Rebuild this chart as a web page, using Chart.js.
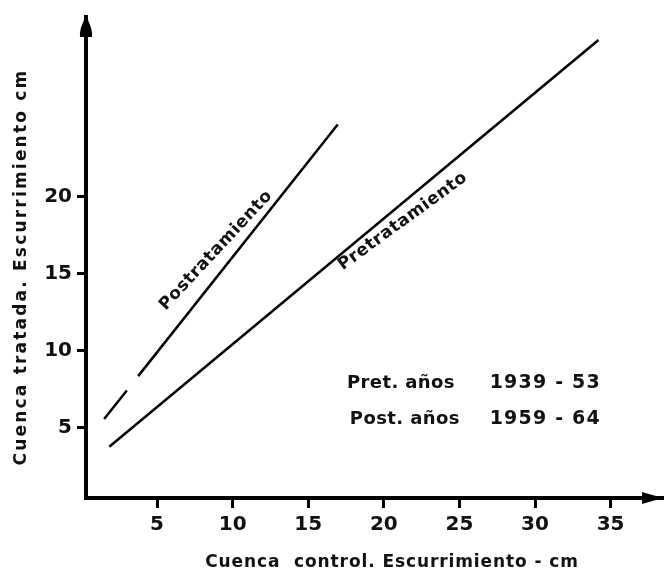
<!DOCTYPE html>
<html><head><meta charset="utf-8">
<script src="https://cdn.jsdelivr.net/npm/chart.js@4"></script>
<style>html,body{margin:0;padding:0;background:#fff}</style>
</head><body><canvas id="c" width="667" height="575"></canvas>
<script>
const xTickValues = [5, 10, 15, 20, 25, 30, 35];
const yTickValues = [5, 10, 15, 20];
const postX = [1.5, 3.0, 3.4, 3.75, 16.95];
const postY = [5.54, 7.4, null, 8.33, 24.7];
const preX = [1.84, 34.2];
const preY = [3.73, 30.2];
const seriesNames = ['Postratamiento', 'Pretratamiento'];
const periodLabels = ['Pret. años', 'Post. años'];
const periodYears = ['1939 - 53', '1959 - 64'];
const xTitle = 'Cuenca  control. Escurrimiento - cm';
const yTitle = 'Cuenca tratada. Escurrimiento cm';

const FONT = '"DejaVu Sans", sans-serif';
const INK = '#111';

const toPts = (xs, ys) => xs.map((x, i) => ({x: x, y: ys[i]}));

const decor = {
  id: 'decor',
  afterDraw(chart) {
    const {ctx, chartArea: a, scales: {x, y}} = chart;
    ctx.save();
    ctx.fillStyle = '#000';
    // y arrow
    ctx.beginPath();
    ctx.moveTo(a.left, a.top - 1);
    ctx.quadraticCurveTo(a.left + 7, a.top + 12, a.left + 6, a.top + 20);
    ctx.lineTo(a.left - 6, a.top + 20);
    ctx.quadraticCurveTo(a.left - 7, a.top + 12, a.left, a.top - 1);
    ctx.fill();
    // x arrow
    ctx.beginPath();
    ctx.moveTo(a.right + 1, a.bottom);
    ctx.lineTo(a.right - 20, a.bottom - 6);
    ctx.lineTo(a.right - 20, a.bottom + 6);
    ctx.closePath();
    ctx.fill();

    ctx.fillStyle = INK;
    ctx.textAlign = 'center';
    ctx.textBaseline = 'middle';
    // axis titles
    ctx.font = 'bold 17px ' + FONT;
    ctx.letterSpacing = '0.9px';
    ctx.fillText(xTitle, 392, 563);
    ctx.letterSpacing = '2.2px';
    ctx.save();
    ctx.translate(22, 267);
    ctx.rotate(-Math.PI / 2);
    ctx.fillText(yTitle, 0, 0);
    ctx.restore();

    // series labels along lines
    const lab = [[8.9, 16.5, -47], [21.26, 18.4, -36]];
    ctx.font = 'bold 17px ' + FONT;
    ctx.letterSpacing = '0.6px';
    seriesNames.forEach((t, i) => {
      ctx.save();
      ctx.translate(x.getPixelForValue(lab[i][0]), y.getPixelForValue(lab[i][1]));
      ctx.rotate(lab[i][2] * Math.PI / 180);
      ctx.fillText(t, 0, 0);
      ctx.restore();
    });

    // period note
    ctx.textAlign = 'left';
    const rowsY = [7.86, 5.54];
    const lx = [17.56, 17.75];
    periodLabels.forEach((t, i) => {
      const py = y.getPixelForValue(rowsY[i]);
      ctx.font = 'bold 18px ' + FONT;
      ctx.letterSpacing = '0.4px';
      ctx.fillText(t, x.getPixelForValue(lx[i]), py);
      ctx.font = 'bold 19px ' + FONT;
      ctx.letterSpacing = '1.2px';
      ctx.fillText(periodYears[i], x.getPixelForValue(27.0), py);
    });
    ctx.restore();
  }
};

new Chart(document.getElementById('c'), {
  type: 'scatter',
  data: {
    datasets: [
      {label: seriesNames[0], data: toPts(postX, postY), showLine: true, spanGaps: false,
       borderColor: '#000', borderWidth: 2.5, pointRadius: 0, fill: false},
      {label: seriesNames[1], data: toPts(preX, preY), showLine: true,
       borderColor: '#000', borderWidth: 2.5, pointRadius: 0, fill: false}
    ]
  },
  options: {
    responsive: false,
    animation: false,
    devicePixelRatio: 1,
    layout: {padding: {top: 12, right: 5, left: 0, bottom: 0}},
    plugins: {legend: {display: false}, tooltip: {enabled: false}},
    scales: {
      x: {
        type: 'linear', min: 0.3, max: 38.4,
        afterBuildTicks: s => { s.ticks = xTickValues.map(v => ({value: v})); },
        afterFit: s => { s.height = 77; },
        grid: {drawOnChartArea: false, drawTicks: true, tickLength: 10, tickWidth: 3, tickColor: '#000', lineWidth: 3},
        border: {display: true, color: '#000', width: 4},
        ticks: {font: {family: FONT, weight: 'bold', size: 20}, color: INK, padding: 5, maxRotation: 0}
      },
      y: {
        type: 'linear', min: 0.4, max: 31.7,
        afterBuildTicks: s => { s.ticks = yTickValues.map(v => ({value: v})); },
        afterFit: s => { s.width = 86; },
        grid: {drawOnChartArea: false, drawTicks: true, tickLength: 9, tickWidth: 3, tickColor: '#000', lineWidth: 3},
        border: {display: true, color: '#000', width: 4},
        ticks: {font: {family: FONT, weight: 'bold', size: 20}, color: INK, padding: 5}
      }
    }
  },
  plugins: [decor]
});
</script>
</body></html>
